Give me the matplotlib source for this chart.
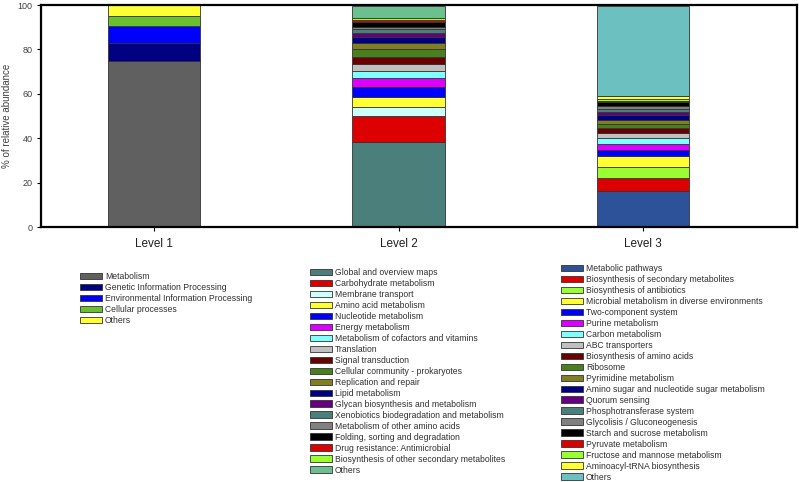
import matplotlib.pyplot as plt
from matplotlib.patches import Patch

# Level 1
lvl1_names = ['Metabolism', 'Genetic Information Processing',
              'Environmental Information Processing', 'Cellular processes', 'Others']
lvl1_vals = [74.7, 8.0, 7.8, 4.5, 4.8]
lvl1_cols = ['#606060', '#000080', '#0000FF', '#6ABF2E', '#FFFF33']

# Level 2
lvl2_names = ['Global and overview maps', 'Carbohydrate metabolism', 'Membrane transport',
              'Amino acid metabolism', 'Nucleotide metabolism', 'Energy metabolism',
              'Metabolism of cofactors and vitamins', 'Translation', 'Signal transduction',
              'Cellular community - prokaryotes', 'Replication and repair', 'Lipid metabolism',
              'Glycan biosynthesis and metabolism', 'Xenobiotics biodegradation and metabolism',
              'Metabolism of other amino acids', 'Folding, sorting and degradation',
              'Drug resistance: Antimicrobial', 'Biosynthesis of other secondary metabolites',
              'Others']
lvl2_vals = [38.1, 11.8, 4.2, 4.5, 4.5, 4.0, 3.1, 3.1, 3.4, 3.3, 2.7, 3.0,
             1.8, 1.7, 0.7, 2.3, 1.0, 0.8, 5.5]
lvl2_cols = ['#4A7F7C', '#DD0000', '#CCFFFF', '#FFFF33', '#0000FF', '#DD00FF',
             '#80FFFF', '#C0C0C0', '#6B0000', '#4A7F1F', '#808020', '#000080',
             '#660080', '#4A7F7C', '#808080', '#000000', '#DD0000', '#99FF33', '#6CC08F']

# Level 3
lvl3_names = ['Metabolic pathways', 'Biosynthesis of secondary metabolites',
              'Biosynthesis of antibiotics', 'Microbial metabolism in diverse environments',
              'Two-component system', 'Purine metabolism', 'Carbon metabolism',
              'ABC transporters', 'Biosynthesis of amino acids', 'Ribosome',
              'Pyrimidine metabolism', 'Amino sugar and nucleotide sugar metabolism',
              'Quorum sensing', 'Phosphotransferase system', 'Glycolisis / Gluconeogenesis',
              'Starch and sucrose metabolism', 'Pyruvate metabolism',
              'Fructose and mannose metabolism', 'Aminoacyl-tRNA biosynthesis', 'Others']
lvl3_vals = [16.2, 6.1, 4.8, 5.1, 2.7, 2.7, 2.3, 2.5, 2.3, 1.9, 1.8, 2.0,
             1.2, 1.4, 1.4, 1.7, 0.7, 0.9, 1.4, 40.4]
lvl3_cols = ['#2E529A', '#DD0000', '#99FF33', '#FFFF33', '#0000FF', '#DD00FF',
             '#80FFFF', '#C0C0C0', '#6B0000', '#4A7F1F', '#808020', '#000080',
             '#660080', '#4A7F7C', '#808080', '#000000', '#DD0000', '#99FF33',
             '#FFFF33', '#6CC0C0']

levels = ['Level 1', 'Level 2', 'Level 3']

plt.rcParams['font.family'] = ['Liberation Sans', 'DejaVu Sans']

fig = plt.figure(figsize=(7.99, 4.82), dpi=100)
ax = fig.add_axes([0.0513, 0.529, 0.946, 0.4606])

groups = [(lvl1_vals, lvl1_cols), (lvl2_vals, lvl2_cols), (lvl3_vals, lvl3_cols)]
for i, (vals, cols) in enumerate(groups):
    bottom = 0
    for v, c in zip(vals, cols):
        ax.bar(i, v, bottom=bottom, width=0.377, color=c, edgecolor='#333333', linewidth=0.6)
        bottom += v

ax.set_xlim(-0.463, 2.63)
ax.set_ylim(0, 100)
ax.set_yticks([0, 20, 40, 60, 80, 100])
ax.set_xticks([0, 1, 2])
ax.set_xticklabels(levels, fontsize=8.5, color='#202020')
ax.tick_params(axis='x', length=3, pad=5)
ax.tick_params(axis='y', labelsize=6.5, labelcolor='#404040', length=3, pad=3)
ax.set_ylabel('% of relative abundance', fontsize=7, color='#404040', labelpad=4)
for s in ax.spines.values():
    s.set_linewidth(1.6)

def add_legend(names, cols, x, y):
    handles = [Patch(facecolor=c, edgecolor='#333333', linewidth=0.6) for c in cols]
    leg = fig.legend(handles, names, loc='upper left', bbox_to_anchor=(x, y),
                     frameon=False, fontsize=6.2, handlelength=2.6, handleheight=0.8,
                     labelspacing=0.23, handletextpad=0.3, borderpad=0, borderaxespad=0)
    for t in leg.get_texts():
        t.set_color('#303030')
    return leg

add_legend(lvl1_names, lvl1_cols, 80 / 799, 1 - 272 / 482)
add_legend(lvl2_names, lvl2_cols, 310 / 799, 1 - 268 / 482)
add_legend(lvl3_names, lvl3_cols, 561 / 799, 1 - 264 / 482)

fig.savefig('out.png', dpi=100)
